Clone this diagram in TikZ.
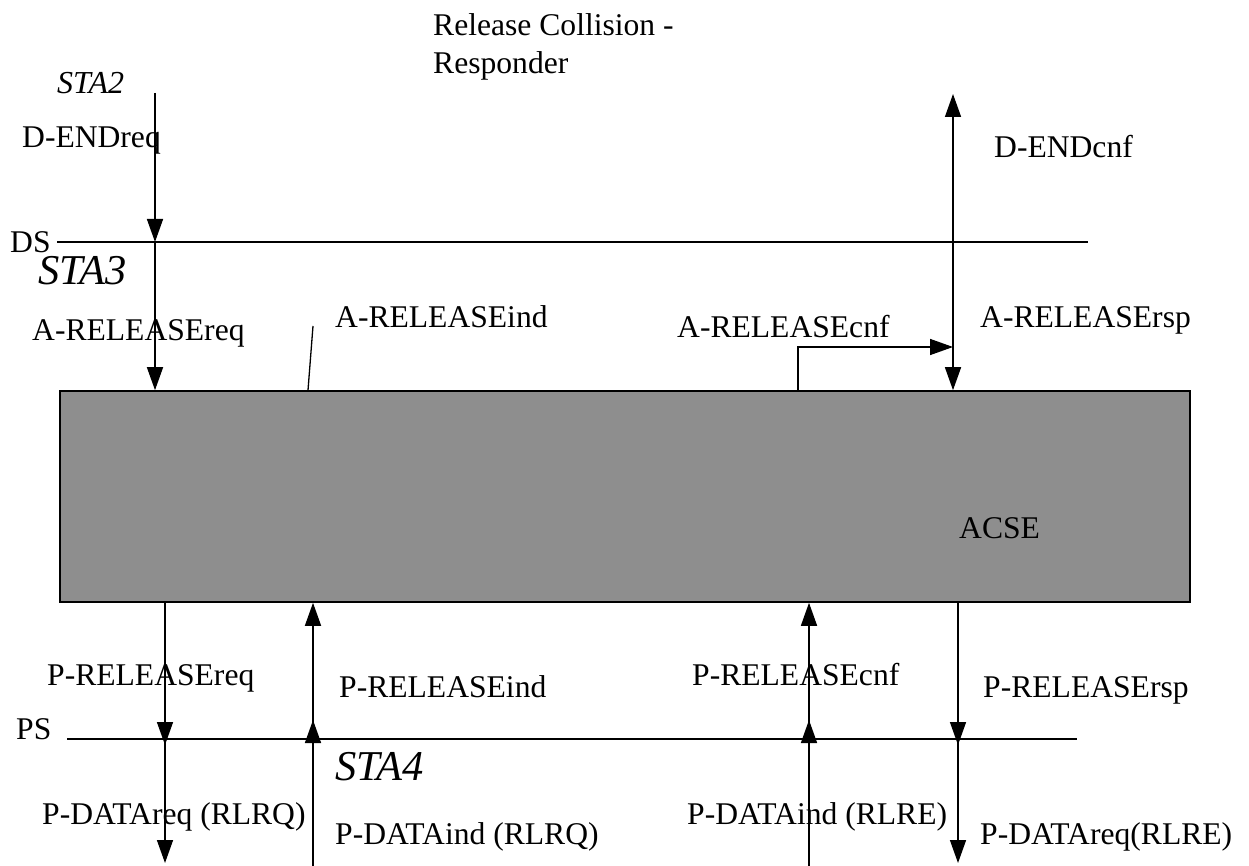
\documentclass[tikz,border=0pt]{standalone}
\usepackage{fontspec}
\setmainfont{Liberation Serif}
\usepackage{tikz}
\usetikzlibrary{arrows.meta}
\definecolor{acseg}{HTML}{8E8E8E}
\tikzset{
  >={Triangle[length=23pt,width=16pt]},
  lbl/.style={anchor=base west,inner sep=0pt,font=\fontsize{31.6}{38}\selectfont},
  sta/.style={anchor=base west,inner sep=0pt,font=\fontsize{42.5}{48}\selectfont\itshape},
  bar/.style={line width=1.5pt},
  sig/.style={->,line width=1.5pt},
  acsebox/.style={draw,line width=1.6pt,fill=acseg,minimum width=1130pt,minimum height=211pt,inner sep=0pt},
}

\begin{document}
\begin{tikzpicture}[x=1pt,y=-1pt]
  \useasboundingbox (0,0) rectangle (1249,866);
  % title
  \node[lbl,anchor=north west,align=left] (title) at (433,13) {Release Collision -\\Responder};
  % service boundaries
  \coordinate (ds-l) at (57,242);  \coordinate (ds-r) at (1088,242);
  \coordinate (ps-l) at (67,739);  \coordinate (ps-r) at (1077,739);
  \draw[bar] (ds-l) -- (ds-r);
  \draw[bar] (ps-l) -- (ps-r);
  \node[lbl] (ds) at (10,253) {DS};
  \node[lbl] (ps) at (16,739) {PS};
  % ACSE
  \node[acsebox] (acse) at (625,496.5) {};
  \node[lbl] (acse-t) at (959,538) {ACSE};
  % states
  \node[sta,font=\fontsize{32}{36}\selectfont\itshape] (sta2) at (57,94) {STA2};
  \node[sta] (sta3) at (38,285) {STA3};
  \node[sta] (sta4) at (335,780) {STA4};
  % upper side
  \coordinate (a-top) at (155,93);   \coordinate (a-ds) at (155,242);
  \coordinate (r-top) at (953,94);   \coordinate (r-ds) at (953,242);
  \draw[sig] (a-top) -- (a-ds);
  \draw[sig] (a-ds) -- (a-ds |- acse.north);
  \draw[sig] (r-ds) -- (r-top);
  \draw[sig] (r-ds) -- (r-ds |- acse.north);
  \coordinate (ind-end) at (313,326);
  \draw[bar,line width=1.3pt] (308,0 |- acse.north) -- (ind-end);
  \coordinate (cnf-bend) at (798,347);
  \draw[sig] (cnf-bend |- acse.north) -- (cnf-bend) -- (r-ds |- cnf-bend);
  \node[lbl] (dendreq) at (22,148) {D-ENDreq};
  \node[lbl] (dendcnf) at (994,158) {D-ENDcnf};
  \node[lbl] (arelreq) at (32,340) {A-RELEASEreq};
  \node[lbl] (arelind) at (335,327) {A-RELEASEind};
  \node[lbl] (arelcnf) at (677,337) {A-RELEASEcnf};
  \node[lbl] (arelrsp) at (980,327) {A-RELEASErsp};
  % lower side
  \coordinate (p1) at (165,745);  \coordinate (p2) at (313,720);
  \coordinate (p3) at (809,720);  \coordinate (p4) at (958,745);
  \draw[sig] (p1 |- acse.south) -- (p1);
  \draw[sig] (p1 |- ps-l) -- (165,863);
  \draw[sig] (313,866) -- (p2);
  \draw[sig] (p2 |- ps-l) -- (p2 |- acse.south);
  \draw[sig] (809,866) -- (p3);
  \draw[sig] (p3 |- ps-l) -- (p3 |- acse.south);
  \draw[sig] (p4 |- acse.south) -- (p4);
  \draw[sig] (p4 |- ps-l) -- (958,863);
  \node[lbl] (prelreq) at (47,685) {P-RELEASEreq};
  \node[lbl] (prelind) at (339,697) {P-RELEASEind};
  \node[lbl] (prelcnf) at (692,685) {P-RELEASEcnf};
  \node[lbl] (prelrsp) at (983,697) {P-RELEASErsp};
  \node[lbl] (pdreq1) at (42,824) {P-DATAreq (RLRQ)};
  \node[lbl] (pdind1) at (335,844) {P-DATAind (RLRQ)};
  \node[lbl] (pdind2) at (687,824) {P-DATAind (RLRE)};
  \node[lbl] (pdreq2) at (980,844) {P-DATAreq(RLRE)};
\end{tikzpicture}
\end{document}
